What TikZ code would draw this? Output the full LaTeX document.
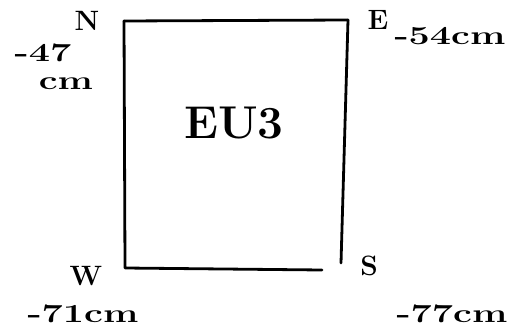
\documentclass[tikz,border=0pt]{standalone}
\usepackage{fontspec}
\begin{document}
\begin{tikzpicture}[x=1pt,y=-1pt,
  stroke/.style={line width=2.8pt,line cap=round,line join=round,black},
  lbl/.style={font=\fontsize{28}{30}\selectfont\bfseries,inner sep=0pt},
  val/.style={font=\fontsize{26}{28}\selectfont\bfseries,inner sep=0pt,xscale=1.45},
  big/.style={font=\fontsize{46}{50}\selectfont\bfseries,inner sep=0pt}]
\useasboundingbox (0,0) rectangle (526,331);
% box corners
\coordinate (tl) at (124,21);
\coordinate (tr) at (348,20);
\coordinate (bl) at (125,268);
\coordinate (be) at (322,270);
\coordinate (rb) at (341,263);
\draw[stroke] (tl) -- (bl) -- (be);
\draw[stroke] (tl) -- (tr);
\draw[stroke] (tr) -- (rb);
% labels
\node[lbl] (n) at (87,21) {N};
\node[val] (nv) at (43,53) {-47};
\node[val] (nu) at (66,84) {cm};
\node[lbl] (e) at (378,20) {E};
\node[val] (ev) at (450,36) {-54cm};
\node[big] (eu) at (234,123) {EU3};
\node[lbl] (w) at (86,276) {W};
\node[val] (wv) at (83,314) {-71cm};
\node[lbl] (s) at (369,266) {S};
\node[val] (sv) at (452,314) {-77cm};
\end{tikzpicture}
\end{document}
